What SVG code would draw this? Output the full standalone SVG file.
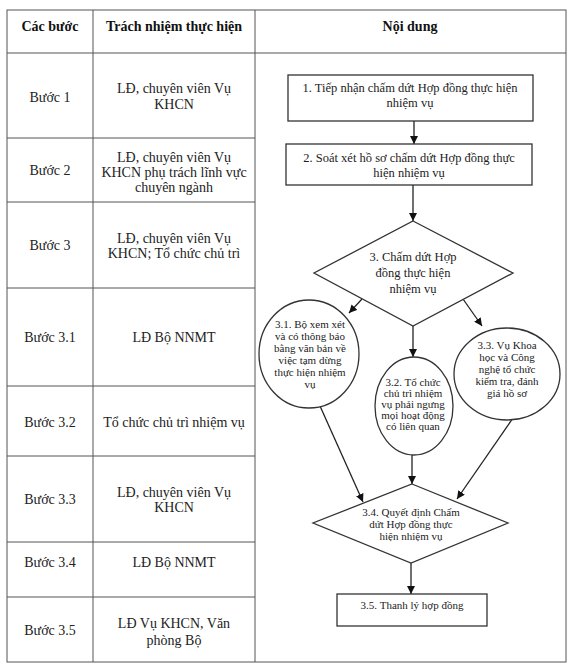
<svg xmlns="http://www.w3.org/2000/svg" width="575" height="670" viewBox="0 0 575 670">
<style>
.grid{stroke:#555;stroke-width:1;fill:none}
.hd{font-family:"Liberation Serif",serif;font-size:14px;font-weight:bold;text-anchor:middle;fill:#111}
.tc{font-family:"Liberation Serif",serif;font-size:14px;text-anchor:middle;fill:#222}
.fb{font-family:"Liberation Serif",serif;font-size:12.5px;text-anchor:middle;fill:#222}
.fs{font-family:"Liberation Serif",serif;font-size:11px;text-anchor:middle;fill:#222}
.shape{fill:#fff;stroke:#333;stroke-width:1.3}
.conn{stroke:#222;stroke-width:1.3;fill:none;marker-end:url(#ah)}
</style>
<defs>
<marker id="ah" markerUnits="userSpaceOnUse" markerWidth="8" markerHeight="8" viewBox="0 0 8 8" refX="8" refY="4" orient="auto">
<path d="M0,0 L8,4 L0,8 z" fill="#111"/>
</marker>
</defs>
<rect width="575" height="670" fill="#fff"/>
<g id="table">
<rect class="grid" x="7" y="10" width="559" height="652"/>
<line class="grid" x1="93" y1="10" x2="93" y2="662"/>
<line class="grid" x1="255" y1="10" x2="255" y2="662"/>
<line class="grid" x1="7" y1="53" x2="566" y2="53"/>
<line class="grid" x1="7" y1="138" x2="255" y2="138"/>
<line class="grid" x1="7" y1="202" x2="255" y2="202"/>
<line class="grid" x1="7" y1="288" x2="255" y2="288"/>
<line class="grid" x1="7" y1="386" x2="255" y2="386"/>
<line class="grid" x1="7" y1="456" x2="255" y2="456"/>
<line class="grid" x1="7" y1="542" x2="255" y2="542"/>
<line class="grid" x1="7" y1="597" x2="255" y2="597"/>
<text class="hd" x="50" y="31">Các bước</text>
<text class="hd" x="174" y="31">Trách nhiệm thực hiện</text>
<text class="hd" x="410" y="31">Nội dung</text>
<text class="tc" x="50" y="102">Bước 1</text>
<text class="tc" x="174" y="93">LĐ, chuyên viên Vụ</text>
<text class="tc" x="174" y="109">KHCN</text>
<text class="tc" x="50" y="175">Bước 2</text>
<text class="tc" x="174" y="162">LĐ, chuyên viên Vụ</text>
<text class="tc" x="174" y="177">KHCN phụ trách lĩnh vực</text>
<text class="tc" x="174" y="192">chuyên ngành</text>
<text class="tc" x="50" y="250">Bước 3</text>
<text class="tc" x="174" y="243">LĐ, chuyên viên Vụ</text>
<text class="tc" x="174" y="258">KHCN; Tổ chức chủ trì</text>
<text class="tc" x="50" y="342">Bước 3.1</text>
<text class="tc" x="174" y="342">LĐ Bộ NNMT</text>
<text class="tc" x="50" y="427">Bước 3.2</text>
<text class="tc" x="174" y="427">Tổ chức chủ trì nhiệm vụ</text>
<text class="tc" x="50" y="504">Bước 3.3</text>
<text class="tc" x="174" y="497">LĐ, chuyên viên Vụ</text>
<text class="tc" x="174" y="512">KHCN</text>
<text class="tc" x="50" y="567">Bước 3.4</text>
<text class="tc" x="174" y="567">LĐ Bộ NNMT</text>
<text class="tc" x="50" y="635">Bước 3.5</text>
<text class="tc" x="174" y="628">LĐ Vụ KHCN, Văn</text>
<text class="tc" x="174" y="645">phòng Bộ</text>
</g>
<g id="connectors">
<line class="conn" x1="414" y1="121" x2="414" y2="144"/>
<line class="conn" x1="413" y1="185" x2="413" y2="221"/>
<line class="conn" x1="362" y1="299" x2="349" y2="313"/>
<line class="conn" x1="413" y1="326" x2="413" y2="357"/>
<line class="conn" x1="463" y1="299" x2="482" y2="326"/>
<line class="conn" x1="320" y1="406" x2="363" y2="502"/>
<line class="conn" x1="412" y1="455" x2="412" y2="484"/>
<line class="conn" x1="513" y1="418" x2="457" y2="499"/>
<line class="conn" x1="411" y1="563" x2="411" y2="594"/>
</g>
<g id="n1">
<rect class="shape" x="288" y="75" width="245" height="46"/>
<text class="fb" x="410" y="92">1. Tiếp nhận chấm dứt Hợp đồng thực hiện</text>
<text class="fb" x="410" y="107">nhiệm vụ</text>
</g>
<g id="n2">
<rect class="shape" x="286" y="144" width="246" height="41"/>
<text class="fb" x="409" y="162">2. Soát xét hồ sơ chấm dứt Hợp đồng thực</text>
<text class="fb" x="409" y="177">hiện nhiệm vụ</text>
</g>
<g id="n3">
<polygon class="shape" points="413,221 513,273 413,326 314,273"/>
<text class="fb" x="413" y="261">3. Chấm dứt Hợp</text>
<text class="fb" x="413" y="277">đồng thực hiện</text>
<text class="fb" x="413" y="293">nhiệm vụ</text>
</g>
<g id="n31">
<ellipse class="shape" cx="309" cy="354" rx="50" ry="54"/>
<text class="fs" x="310" y="328">3.1. Bộ xem xét</text>
<text class="fs" x="310" y="340">và có thông báo</text>
<text class="fs" x="310" y="352">bằng văn bản về</text>
<text class="fs" x="310" y="364">việc tạm dừng</text>
<text class="fs" x="310" y="376">thực hiện nhiệm</text>
<text class="fs" x="310" y="388">vụ</text>
</g>
<g id="n32">
<ellipse class="shape" cx="414" cy="406" rx="39" ry="49"/>
<text class="fs" x="413" y="386">3.2. Tổ chức</text>
<text class="fs" x="413" y="397">chủ trì nhiệm</text>
<text class="fs" x="413" y="408">vụ phải ngưng</text>
<text class="fs" x="413" y="419">mọi hoạt động</text>
<text class="fs" x="413" y="430">có liên quan</text>
</g>
<g id="n33">
<ellipse class="shape" cx="507" cy="374" rx="53" ry="46"/>
<text class="fs" x="507" y="349">3.3. Vụ Khoa</text>
<text class="fs" x="507" y="361">học và Công</text>
<text class="fs" x="507" y="373">nghệ tổ chức</text>
<text class="fs" x="507" y="385">kiểm tra, đánh</text>
<text class="fs" x="507" y="397">giá hồ sơ</text>
</g>
<g id="n34">
<polygon class="shape" points="412,484 508,523 411,563 313,523"/>
<text class="fs" x="411" y="516">3.4. Quyết định Chấm</text>
<text class="fs" x="411" y="528">dứt Hợp đồng thực</text>
<text class="fs" x="411" y="540">hiện nhiệm vụ</text>
</g>
<g id="n35">
<rect class="shape" x="337" y="594" width="150" height="32"/>
<text class="fs" x="412" y="609">3.5. Thanh lý hợp đồng</text>
</g>
</svg>
